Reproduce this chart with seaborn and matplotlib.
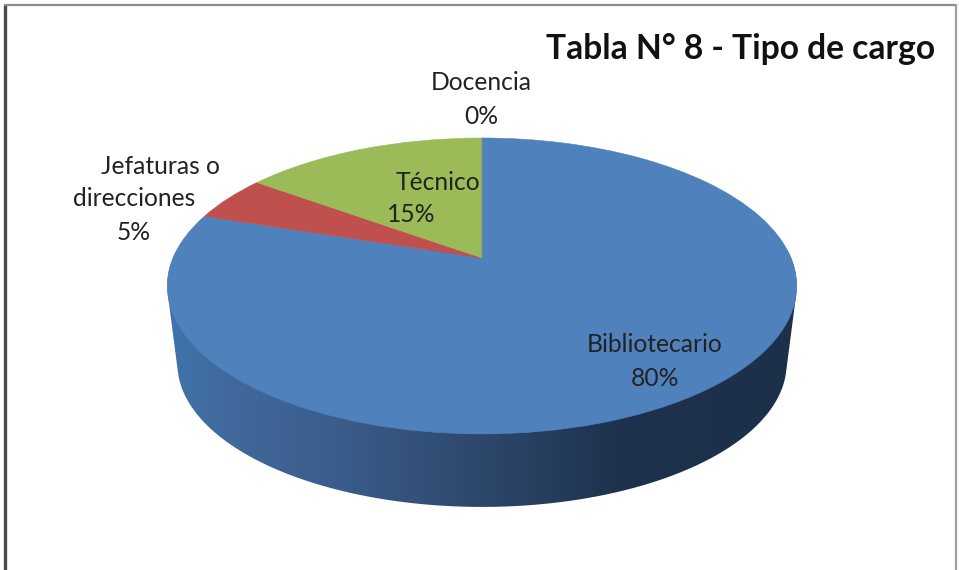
import numpy as np
import matplotlib
matplotlib.use("Agg")
import matplotlib.pyplot as plt
import seaborn as sns
from matplotlib.colors import LinearSegmentedColormap
from matplotlib.patches import Polygon
from matplotlib.transforms import Transform

title = "Tabla N° 8 - Tipo de cargo"
categories = ["Bibliotecario", "Jefaturas o\ndirecciones", "Técnico", "Docencia"]
values = [80, 5, 15, 0]
slice_colors = ["#4F81BD", "#C0504D", "#9BBB59", "#8064A2"]
wall_colors = ["#3F74AB", "#41699C", "#3A5C8A", "#2C4568", "#1E324D", "#1C304A"]


class PiePerspective(Transform):
    # unit circle -> tilted pie in pixel coordinates
    input_dims = 2
    output_dims = 2

    def __init__(self, scale=1.0, drop=0.0):
        super().__init__()
        self.scale = scale
        self.drop = drop

    def transform_non_affine(self, xy):
        xy = np.asarray(xy, dtype=float)
        w = 1 + 0.189 * xy[:, 1]
        px = 482 + self.scale * 309 * xy[:, 0] / w
        py = 258 + self.drop - self.scale * 142.7 * xy[:, 1] / w
        return np.column_stack([px, py])


def convex_hull(points):
    pts = sorted(map(tuple, points))
    def half(seq):
        out = []
        for p in seq:
            while len(out) > 1:
                a, b = out[-2], out[-1]
                if (b[0] - a[0]) * (p[1] - a[1]) - (b[1] - a[1]) * (p[0] - a[0]) > 0:
                    break
                out.pop()
            out.append(p)
        return out[:-1]
    return half(pts) + half(pts[::-1])


sns.set_theme(style="white")
plt.rcParams["font.family"] = ["Lato", "DejaVu Sans"]

fig = plt.figure(figsize=(9.59, 5.70), dpi=100, facecolor="white")
ax = fig.add_axes([0, 0, 1, 1])

wedges, _ = ax.pie(values, colors=sns.color_palette(slice_colors), startangle=90,
                   counterclock=False)
for w in wedges:
    w.set_transform(PiePerspective() + ax.transData)
    w.set_edgecolor(w.get_facecolor())
    w.set_linewidth(0.4)

# side wall of the pie, gradient clipped to the outline
angles = np.linspace(0, 2 * np.pi, 361)
circle = np.column_stack([np.cos(angles), np.sin(angles)])
rim_top = PiePerspective().transform_non_affine(circle)
rim_bottom = PiePerspective(scale=0.968, drop=78.6).transform_non_affine(circle)
outline = convex_hull(np.vstack([rim_top, rim_bottom]))
wall_cmap = LinearSegmentedColormap.from_list(
    "wall", list(zip([0, 0.1, 0.28, 0.52, 0.72, 1], wall_colors)))
wall = ax.imshow(np.linspace(0, 1, 256)[None, :], cmap=wall_cmap, aspect="auto",
                 extent=(167, 797, 510, 250), zorder=0)
clip = Polygon(outline, closed=True, transform=ax.transData, facecolor="none", edgecolor="none")
ax.add_patch(clip)
wall.set_clip_path(clip)

ax.set_aspect("auto")
ax.set_xlim(0, 959)
ax.set_ylim(570, 0)
ax.axis("off")

# frame of the pasted chart (no bottom edge)
ax.plot([5, 5], [5, 570], color="#4A4A4A", lw=2.4, solid_capstyle="butt")
ax.plot([4, 956], [5, 5], color="#8C8C8C", lw=1.6, solid_capstyle="butt")
ax.plot([956, 956], [4, 570], color="#A0A0A0", lw=1.6, solid_capstyle="butt")

ax.text(935, 49, title, ha="right", va="center", fontsize=24.2, fontweight="bold", color="#111111")

label_style = dict(ha="center", va="center", fontsize=17.7, color="#222222")
ax.text(481, 83, categories[3], **label_style)
ax.text(481, 116, f"{values[3]}%", **label_style)
jefe_a, jefe_b = categories[1].split("\n")
ax.text(160, 167, jefe_a, **label_style)
ax.text(134, 199, jefe_b, **label_style)
ax.text(134, 232, f"{values[1]}%", **label_style)
ax.text(438, 182, categories[2], **label_style)
ax.text(411, 214, f"{values[2]}%", **label_style)
ax.text(655, 345, categories[0], **label_style)
ax.text(655, 378, f"{values[0]}%", **label_style)

fig.savefig("out.png", dpi=100)
